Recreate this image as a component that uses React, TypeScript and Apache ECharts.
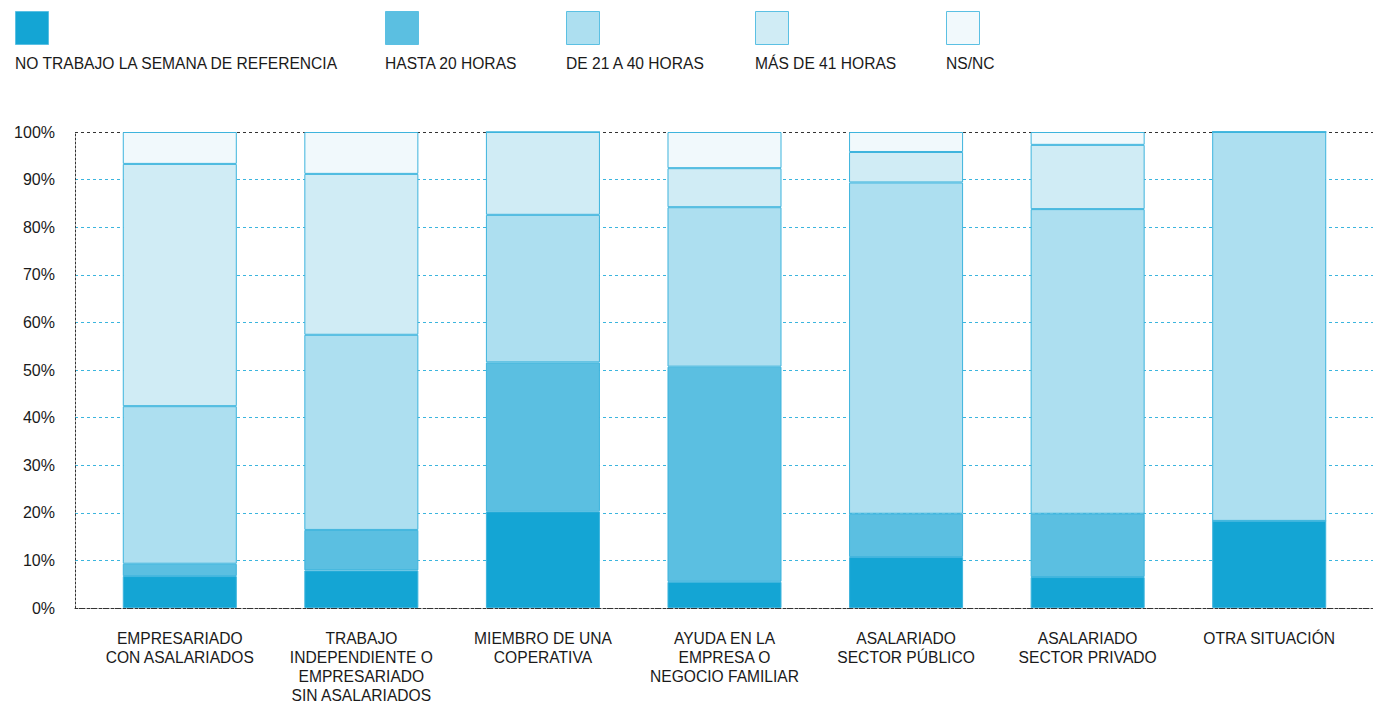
import React, { useEffect, useRef } from "react";
import * as echarts from "echarts";

const categories = [
  "EMPRESARIADO\nCON ASALARIADOS",
  "TRABAJO\nINDEPENDIENTE O\nEMPRESARIADO\nSIN ASALARIADOS",
  "MIEMBRO DE UNA\nCOPERATIVA",
  "AYUDA EN LA\nEMPRESA O\nNEGOCIO FAMILIAR",
  "ASALARIADO\nSECTOR PÚBLICO",
  "ASALARIADO\nSECTOR PRIVADO",
  "OTRA SITUACIÓN",
];

const seriesNames = [
  "NO TRABAJO LA SEMANA DE REFERENCIA",
  "HASTA 20 HORAS",
  "DE 21 A 40 HORAS",
  "MÁS DE 41 HORAS",
  "NS/NC",
];

const noTrabajo = [6.7, 7.9, 20.3, 5.5, 10.7, 6.5, 18.3];
const hasta20 = [2.6, 8.5, 31.3, 45.2, 9.1, 13.3, 0];
const de21a40 = [33.1, 41.0, 31.0, 33.5, 69.6, 64.0, 81.7];
const mas41 = [50.9, 33.8, 17.4, 8.2, 6.4, 13.5, 0];
const nsnc = [6.7, 8.8, 0, 7.6, 4.2, 2.7, 0];

const seriesData = [noTrabajo, hasta20, de21a40, mas41, nsnc];
const colors = ["#14a5d4", "#5bbfe1", "#addff0", "#d0ecf5", "#f1f9fc"];
const legendX = [15, 385, 566, 755, 946];

const yTicks = [0, 10, 20, 30, 40, 50, 60, 70, 80, 90, 100];

const FONT = "'Liberation Sans', Arial, Helvetica, sans-serif";
const BORDER = "#3db4dd";
const DOTTED = { color: "#333333", type: [2, 2], width: 1 };

export default function App() {
  const ref = useRef<HTMLDivElement>(null);
  useEffect(() => {
    if (!ref.current) return;
    const chart = echarts.init(ref.current, undefined, { renderer: "svg" });
    const splitColors = yTicks.map((t) => (t === 0 || t === 100 ? "#333333" : "#3bb5de"));
    const graphics: any[] = [];
    seriesNames.forEach((name, i) => {
      graphics.push({
        type: "rect",
        left: legendX[i],
        top: 11,
        shape: { width: 33, height: 33 },
        style: { fill: colors[i], stroke: "#5bc0e3", lineWidth: 1 },
      });
      graphics.push({
        type: "text",
        left: legendX[i],
        top: 55,
        style: { text: name, fill: "#1a1a1a", font: `15.6px ${FONT}` },
      });
    });
    chart.setOption({
      animation: false,
      textStyle: { fontFamily: FONT },
      grid: [
        { left: 75, right: 0, top: 132, bottom: 93, containLabel: false, outerBoundsMode: "none" },
        { left: 89, right: 13, top: 132, bottom: 93, containLabel: false, outerBoundsMode: "none" },
      ],
      graphic: graphics,
      xAxis: [
        {
          type: "value",
          gridIndex: 0,
          min: 0,
          max: 1,
          axisLine: { show: true, lineStyle: DOTTED },
          axisTick: { show: false },
          axisLabel: { show: false },
          splitLine: { show: false },
        },
        {
          type: "category",
          gridIndex: 1,
          data: categories,
          axisLine: { show: false },
          axisTick: { show: false },
          axisLabel: {
            interval: 0,
            margin: 21,
            fontSize: 15.6,
            lineHeight: 19,
            color: "#1a1a1a",
            fontFamily: FONT,
          },
        },
      ],
      yAxis: [
        {
          type: "value",
          gridIndex: 0,
          min: 0,
          max: 100,
          interval: 10,
          axisLine: { show: true, lineStyle: DOTTED },
          axisTick: { show: false },
          axisLabel: {
            margin: 20,
            fontSize: 16,
            color: "#1a1a1a",
            fontFamily: FONT,
            formatter: (v: number) => `${v}%`,
          },
          splitLine: {
            show: true,
            lineStyle: { color: splitColors, type: [3, 3], width: 1 },
          },
        },
        {
          type: "value",
          gridIndex: 1,
          min: 0,
          max: 100,
          interval: 10,
          show: false,
          splitLine: { show: false },
        },
      ],
      series: seriesNames.map((name, i) => ({
        name,
        type: "bar",
        stack: "total",
        xAxisIndex: 1,
        yAxisIndex: 1,
        barWidth: "62.8%",
        data: seriesData[i],
        itemStyle: { color: colors[i], borderColor: BORDER, borderWidth: 1 },
      })),
    });
    return () => chart.dispose();
  }, []);
  return <div ref={ref} style={{ width: 1373, height: 701, position: "absolute", left: 0, top: 0 }} />;
}
